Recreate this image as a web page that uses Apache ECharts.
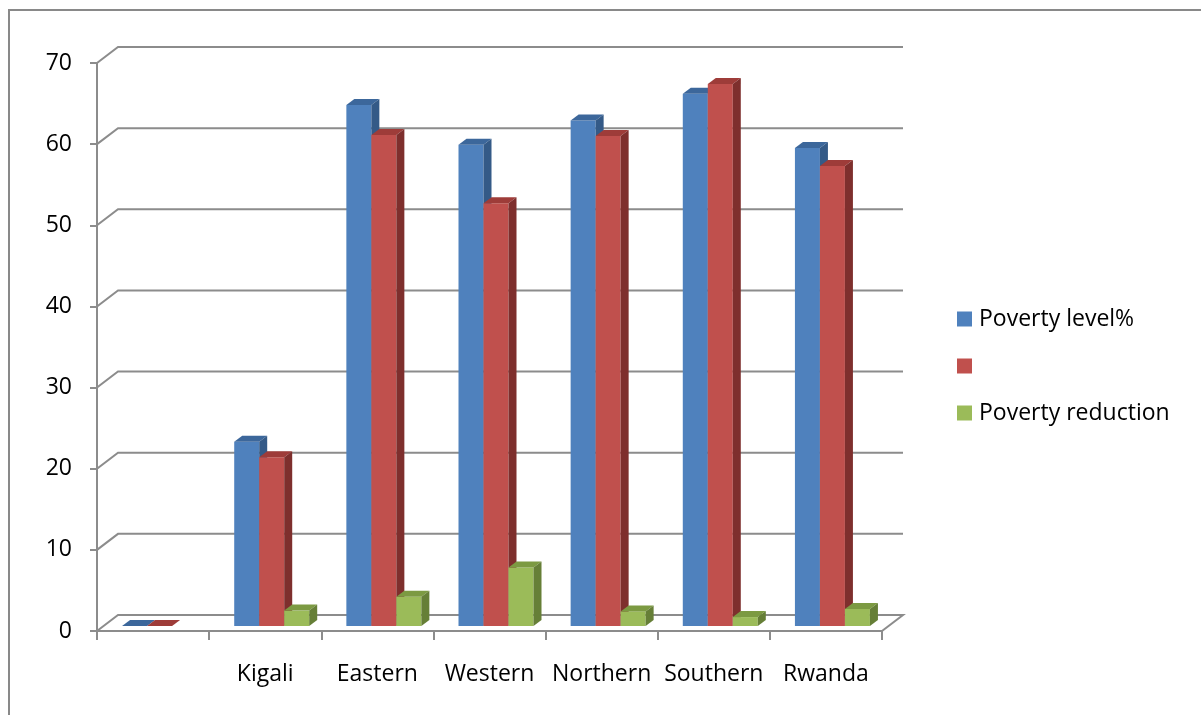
<!DOCTYPE html>
<html>
<head>
<meta charset="utf-8">
<title>Poverty level by province</title>
<style>
    html, body { margin: 0; padding: 0; background: #fff; }
    #main { width: 1201px; height: 715px; }
</style>
<script src="https://cdn.jsdelivr.net/npm/echarts@6.0.0/dist/echarts.min.js"></script>
</head>
<body>
<div id="main"></div>
<script>
// 数据
let regions = ['', 'Kigali', 'Eastern', 'Western', 'Northern', 'Southern', 'Rwanda'];
let povertyLevel = [0, 22.7, 64.2, 59.3, 62.3, 65.6, 58.9];
let secondLevel = [0, 20.8, 60.5, 52.1, 60.4, 66.8, 56.7];
let povertyReduction = ['-', 1.9, 3.6, 7.2, 1.8, 1.1, 2.1];
let yTicks = [0, 10, 20, 30, 40, 50, 60, 70];
let seriesNames = ['Poverty level%', ' ', 'Poverty reduction'];

// front / top / side colours of each bar
let colors = [
    ['#4f81bd', '#3c679b', '#345a87'],
    ['#c0504d', '#9e3c39', '#7e2f2d'],
    ['#9bbb59', '#7c9a42', '#667f37']
];
let lineColor = '#8c8c8c';
let wallDx = 21, wallDy = 16;   // back wall offset
let barDx = 8, barDy = 6;       // depth of a bar
let shiftX = 6.5, shiftY = 5;   // bars stand a little behind the front edge
let barW = 25;
let font = 'Open Sans';
let fontSize = 23;

// back wall + floor lines
function wallRender(params, api) {
    let v = api.value(1);
    let y = api.coord([0, v])[1];
    let x0 = params.coordSys.x;
    let x1 = x0 + params.coordSys.width;
    let pts = [[x0, y], [x0 + wallDx, y - wallDy], [x1 + wallDx, y - wallDy]];
    if (v === 0) {
        pts.push([x1, y]);
    }
    return {
        type: 'polyline',
        shape: {points: pts},
        style: {stroke: lineColor, lineWidth: 2, fill: null}
    };
}

// 3d looking column
function barRender(k) {
    return function (params, api) {
        let v = api.value(1);
        if (isNaN(v)) {
            return null;
        }
        let b = api.coord([api.value(0), 0]);
        let t = api.coord([api.value(0), v]);
        let x0 = b[0] - 1.5 * barW + k * barW + shiftX;
        let x1 = x0 + barW;
        let yb = b[1] - shiftY;
        let yt = t[1] - shiftY;
        let col = colors[k];
        return {
            type: 'group',
            children: [
                {
                    type: 'rect',
                    shape: {x: x0, y: yt, width: barW, height: yb - yt},
                    style: {fill: col[0]}
                },
                {
                    type: 'polygon',
                    shape: {points: [[x0, yt], [x0 + barDx, yt - barDy], [x1 + barDx, yt - barDy], [x1, yt]]},
                    style: {fill: col[1]}
                },
                {
                    type: 'polygon',
                    shape: {points: [[x1, yt], [x1 + barDx, yt - barDy], [x1 + barDx, yb - barDy], [x1, yb]]},
                    style: {fill: col[2]}
                }
            ]
        };
    };
}

let values = [povertyLevel, secondLevel, povertyReduction];
let barSeries = values.map(function (arr, k) {
    return {
        name: seriesNames[k],
        type: 'custom',
        clip: false,
        z: 3,
        itemStyle: {color: colors[k][0]},
        renderItem: barRender(k),
        data: arr.map(function (v, i) { return [i, v]; })
    };
});

let option = {
    animation: false,
    backgroundColor: '#fff',
    graphic: [{
        type: 'polyline',
        shape: {points: [[9, 716], [9, 10], [1202, 10]]},
        style: {stroke: '#898989', lineWidth: 2, fill: null}
    }],
    grid: {
        left: 97,
        top: 63,
        width: 785,
        height: 568
    },
    legend: {
        data: seriesNames,
        orient: 'vertical',
        left: 952,
        top: 302,
        icon: 'rect',
        itemWidth: 15,
        itemHeight: 15,
        itemGap: 23,
        textStyle: {
            fontFamily: font,
            fontSize: fontSize,
            lineHeight: 24,
            color: '#000',
            padding: [0, 0, 0, 2]
        }
    },
    xAxis: {
        type: 'category',
        data: regions,
        axisLine: {lineStyle: {color: lineColor, width: 2}},
        axisTick: {show: true, length: 9, lineStyle: {color: lineColor, width: 2}},
        axisLabel: {
            interval: 0,
            hideOverlap: false,
            margin: 32,
            fontFamily: font,
            fontSize: fontSize,
            color: '#000'
        },
        splitLine: {show: false}
    },
    yAxis: {
        type: 'value',
        min: 0,
        max: 70,
        interval: 10,
        axisLine: {show: true, lineStyle: {color: lineColor, width: 2}},
        axisTick: {show: true, length: 7, lineStyle: {color: lineColor, width: 2}},
        axisLabel: {
            margin: 25,
            fontFamily: font,
            fontSize: fontSize,
            color: '#000'
        },
        splitLine: {show: false}
    },
    series: [{
        type: 'custom',
        clip: false,
        silent: true,
        z: 1,
        renderItem: wallRender,
        data: yTicks.map(function (v) { return [0, v]; })
    }].concat(barSeries)
};

let myChart = echarts.init(document.querySelector('#main'));
myChart.setOption(option, true);
</script>
</body>
</html>
